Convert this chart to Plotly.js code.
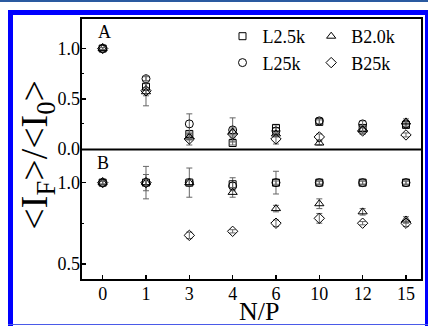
<!DOCTYPE html>
<html>
<head>
<meta charset="utf-8">
<script src="https://cdn.plot.ly/plotly-3.0.1.min.js"></script>
<style>
html,body{margin:0;padding:0;background:#fff;}
#wrap{position:relative;width:428px;height:326px;overflow:hidden;}
#chart{position:absolute;left:0;top:0;width:428px;height:326px;}
.f{position:absolute;pointer-events:none;}
</style>
</head>
<body>
<div id="wrap">
<div id="chart"></div>
<div class="f" style="left:0;top:0;width:428px;height:2px;background:#2a5aa0;"></div>
<div class="f" style="left:8px;top:10px;width:420px;height:5px;background:#0000ff;"></div>
<div class="f" style="left:8px;top:10px;width:5px;height:316px;background:#0000ff;"></div>
<div class="f" style="left:425px;top:10px;width:3px;height:316px;background:#0000ff;"></div>
<div class="f" style="left:8px;top:324px;width:420px;height:1px;background:#4a5ae8;"></div>
</div>
<script>
const categories = ["0", "1", "3", "4", "6", "10", "12", "15"];
const seriesNames = ["L2.5k", "L25k", "B2.0k", "B25k"];

// Panel A
const A_L25 = [1.0, 0.62, 0.15, 0.06, 0.21, 0.27, 0.21, 0.24];
const A_L25_err = [0.01, 0.03, 0.03, 0.02, 0.03, 0.02, 0.03, 0.02];
const A_L250 = [1.0, 0.70, 0.25, 0.19, 0.18, 0.28, 0.25, 0.25];
const A_L250_err = [0.01, 0.02, 0.10, 0.12, 0.03, 0.03, 0.03, 0.03];
const A_B20 = [1.0, 0.57, 0.12, 0.17, 0.15, 0.06, 0.19, 0.27];
const A_B20_err = [0.01, 0.04, 0.03, 0.04, 0.03, 0.02, 0.04, 0.03];
const A_B250 = [1.0, 0.58, 0.10, 0.15, 0.10, 0.12, 0.18, 0.14];
const A_B250_err = [0.01, 0.15, 0.06, 0.04, 0.05, 0.03, 0.03, 0.02];

// Panel B
const B_L25 = [1.0, 1.0, 1.0, 0.99, 1.0, 1.0, 1.0, 1.0];
const B_L25_err = [0.01, 0.10, 0.09, 0.04, 0.07, 0.01, 0.01, 0.01];
const B_L250 = [1.0, 1.0, 1.0, 0.98, 1.0, 1.0, 1.0, 1.0];
const B_L250_err = [0.01, 0.05, 0.02, 0.02, 0.01, 0.01, 0.01, 0.01];
const B_B20 = [1.0, 1.0, 1.0, 0.94, 0.84, 0.87, 0.82, 0.77];
const B_B20_err = [0.01, 0.02, 0.02, 0.03, 0.02, 0.03, 0.02, 0.02];
const B_B250 = [1.0, 1.0, 0.675, 0.70, 0.75, 0.78, 0.75, 0.75];
const B_B250_err = [0.01, 0.02, 0.02, 0.01, 0.02, 0.03, 0.01, 0.02];

const symbols = ["square-open", "circle-open", "triangle-up-open", "diamond-open"];
const sizes = [7, 8, 8, 8];
const legendIds = ["legend", "legend", "legend2", "legend2"];
const aData = [[A_L25, A_L25_err], [A_L250, A_L250_err], [A_B20, A_B20_err], [A_B250, A_B250_err]];
const bData = [[B_L25, B_L25_err], [B_L250, B_L250_err], [B_B20, B_B20_err], [B_B250, B_B250_err]];

const FONT = "'Liberation Serif', 'Times New Roman', serif";
const traces = [];
function mk(d, i, yax, show) {
  return {
    x: categories, y: d[0], type: "scatter", mode: "markers",
    name: seriesNames[i], xaxis: "x", yaxis: yax, showlegend: show,
    legend: legendIds[i],
    marker: {symbol: symbols[i], size: sizes[i], color: "#000", line: {width: 1, color: "#000"}},
    error_y: {type: "data", array: d[1], visible: true, color: "#666", thickness: 1, width: 3},
    cliponaxis: false
  };
}
aData.forEach((d, i) => traces.push(mk(d, i, "y2", true)));
bData.forEach((d, i) => traces.push(mk(d, i, "y", false)));

const split = 0.498;
const layout = {
  width: 428, height: 326,
  margin: {l: 81, r: 6, t: 18, b: 46},
  paper_bgcolor: "#fff", plot_bgcolor: "#fff",
  font: {family: FONT, color: "#000", size: 18},
  showlegend: true,
  xaxis: {
    type: "category", range: [-0.5, 7.37], anchor: "y",
    ticks: "inside", ticklen: 5, tickwidth: 1.5, tickcolor: "#000", ticklabelstandoff: 1,
    tickfont: {family: FONT, size: 18}, showgrid: false, zeroline: false, showline: false
  },
  yaxis: {
    domain: [0, split], range: [0.4, 1.204], anchor: "x",
    tickmode: "array", tickvals: [0.5, 1.0], ticktext: ["0.5", "1.0"],
    ticks: "inside", ticklen: 5, tickwidth: 1.5, tickcolor: "#000",
    minor: {tickvals: [0.75], ticks: "inside", ticklen: 3, tickwidth: 1, tickcolor: "#000"},
    tickfont: {family: FONT, size: 18}, showgrid: false, zeroline: false, showline: false
  },
  yaxis2: {
    domain: [split, 1], range: [-0.005, 1.304], anchor: "x",
    tickmode: "array", tickvals: [0, 0.5, 1.0], ticktext: ["0.0", "0.5", "1.0"],
    ticks: "inside", ticklen: 5, tickwidth: 1.5, tickcolor: "#000",
    minor: {tickvals: [0.25, 0.75], ticks: "inside", ticklen: 3, tickwidth: 1, tickcolor: "#000"},
    tickfont: {family: FONT, size: 18}, showgrid: false, zeroline: false, showline: false
  },
  legend: {
    x: 0.415, y: 1.0, xanchor: "left", yanchor: "top", bgcolor: "rgba(0,0,0,0)",
    font: {family: FONT, size: 18}, tracegroupgap: 0, itemwidth: 30
  },
  legend2: {
    x: 0.675, y: 1.0, xanchor: "left", yanchor: "top", bgcolor: "rgba(0,0,0,0)",
    font: {family: FONT, size: 18}, tracegroupgap: 0, itemwidth: 30
  },
  shapes: [
    {type: "rect", xref: "paper", yref: "paper", x0: 0, x1: 1, y0: 0, y1: 1, line: {color: "#000", width: 2}},
    {type: "line", xref: "paper", yref: "paper", x0: 0, x1: 1, y0: split, y1: split, line: {color: "#000", width: 2}}
  ],
  annotations: [
    {text: "A", xref: "paper", yref: "paper", x: 0.068, y: 0.947, xanchor: "center", yanchor: "middle",
     showarrow: false, font: {family: FONT, size: 18}},
    {text: "B", xref: "paper", yref: "paper", x: 0.065, y: 0.447, xanchor: "center", yanchor: "middle",
     showarrow: false, font: {family: FONT, size: 18}},
    {text: "&lt;I<sub>F</sub>&gt;/&lt;I<sub>0</sub>&gt;", xref: "paper", yref: "paper", x: -0.13, y: 0.477,
     xanchor: "center", yanchor: "middle", textangle: -90, showarrow: false, font: {family: FONT, size: 38}},
    {text: "N/P", xref: "paper", yref: "paper", x: 0.522, y: -0.122, xanchor: "center", yanchor: "middle",
     showarrow: false, font: {family: FONT, size: 26}}
  ]
};
Plotly.newPlot("chart", traces, layout, {displayModeBar: false, staticPlot: true});
</script>
</body>
</html>
